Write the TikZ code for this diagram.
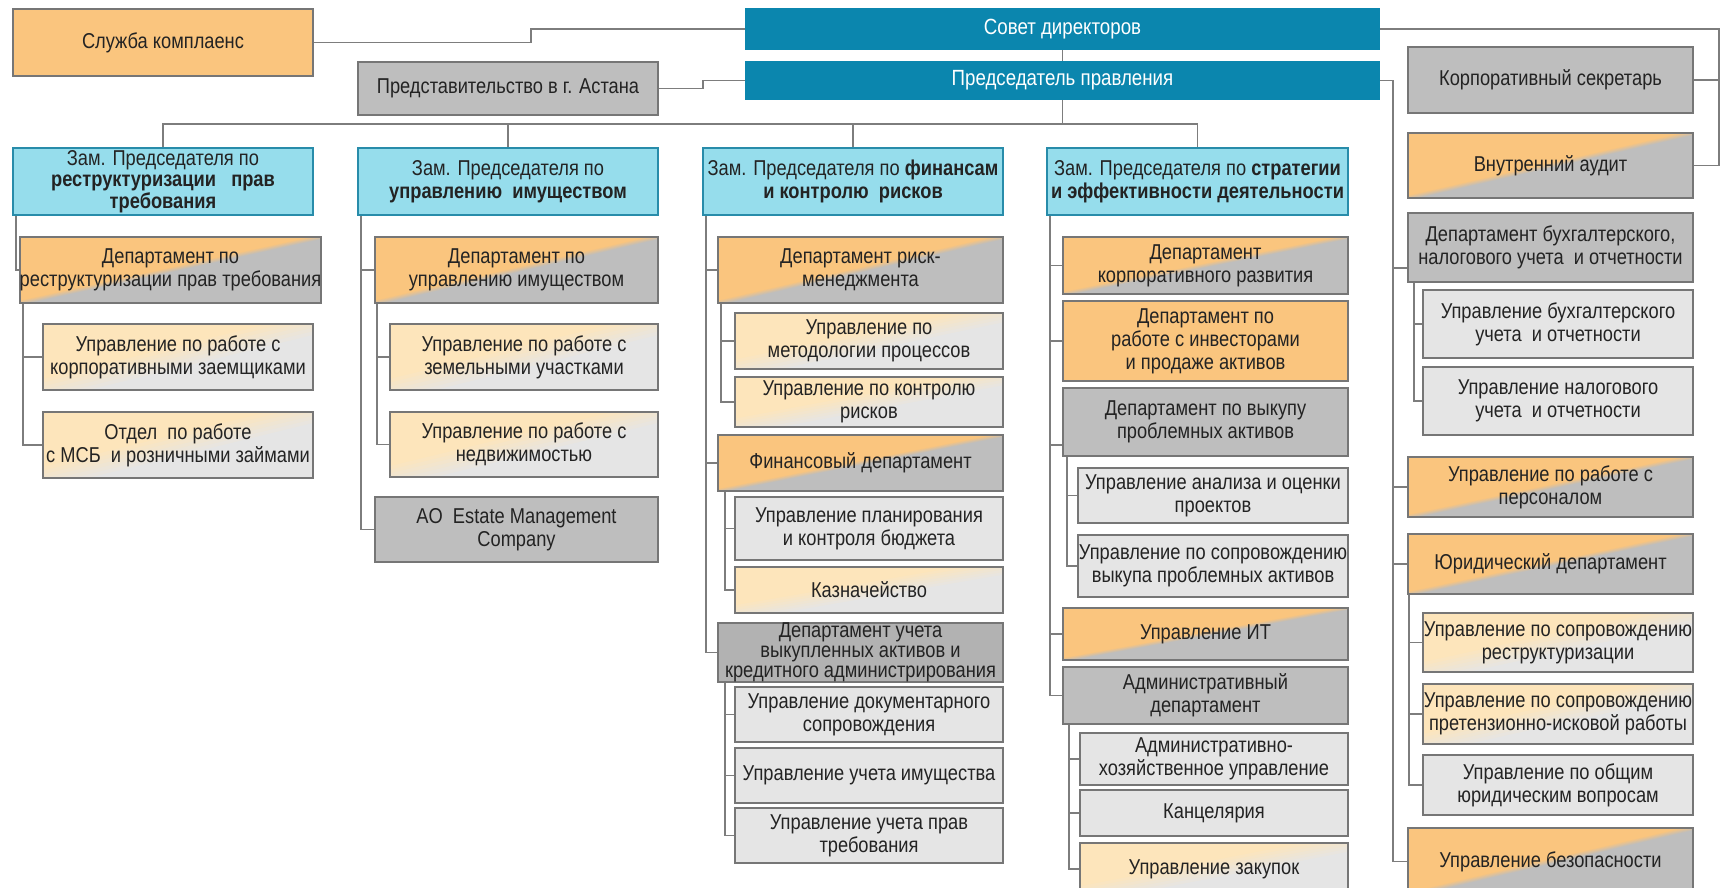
\documentclass[tikz,border=0pt]{standalone}
\usepackage{fontspec}
\setmainfont{Liberation Sans}[FakeStretch=0.85]
\usetikzlibrary{calc}
\definecolor{cTeal}{RGB}{11,134,174}
\definecolor{cTealBd}{RGB}{40,140,170}
\definecolor{cCyan}{RGB}{150,221,236}
\definecolor{cOr}{RGB}{250,197,126}
\definecolor{cGr}{RGB}{190,190,190}
\definecolor{cDGr}{RGB}{178,178,178}
\definecolor{cLGr}{RGB}{229,229,229}
\definecolor{cPOr}{RGB}{253,229,187}
\definecolor{cBd}{RGB}{118,118,118}
\definecolor{cLn}{RGB}{125,125,125}
\definecolor{cTxt}{RGB}{35,35,35}
\newcommand\diagfill[3]{%
  \foreach \i in {1,...,7}{%
    \pgfmathtruncatemacro\pp{\i*100/7}%
    \pgfmathsetmacro\off{-#3+2*#3*(\i-1)/6}%
    \fill[#2!\pp!#1] ($(path picture bounding box.south west)+(\off,0)$) --
      ($(path picture bounding box.north east)+(\off,0)$) -- ++(2000,0) --
      ($(path picture bounding box.south west)+(\off+2000,0)$) -- cycle;
  }}
\tikzset{
  base/.style={draw=cBd, line width=1.6pt, align=center, inner sep=0pt, text=cTxt, font=\fontsize{21.5}{23}\selectfont},
  tealbox/.style={base, fill=cTeal, draw=cTeal, text=white, font=\fontsize{22}{24}\selectfont},
  zam/.style={base, fill=cCyan, draw=cTealBd},
  orbox/.style={base, fill=cOr},
  grbox/.style={base, fill=cGr},
  dgrbox/.style={base, fill=cDGr},
  lgrbox/.style={base, fill=cLGr},
  gradbox/.style={base, fill=cOr, path picture={\diagfill{cOr}{cGr}{10}}},
  palebox/.style={base, fill=cPOr, path picture={\diagfill{cPOr}{cLGr}{45}}},
  conn/.style={draw=cLn, line width=1.6pt},
}
\newcommand\orgbox[7]{%
  \node[#2, minimum width={(#5-#3)*1pt}, minimum height={(#6-#4)*1pt}] (#1) at ({(#3+#5)/2},{(#4+#6)/2}) {#7};}
\begin{document}
\begin{tikzpicture}[x=1pt,y=-1pt]
\useasboundingbox (0,0) rectangle (1720,887);
\fill[white] (0,0) rectangle (1720,887);
% top
\orgbox{slu}{orbox}{13}{9}{313}{76}{Служба комплаенс}
\orgbox{pred}{grbox}{358}{62}{658}{115}{Представительство в г. Астана}
\orgbox{sovet}{tealbox}{746}{9}{1379}{49}{Совет директоров}
\orgbox{chair}{tealbox}{746}{62}{1379}{99}{Председатель правления}
% column 1
\orgbox{zam1}{zam,font=\fontsize{21.5}{21.5}\selectfont}{13}{148}{313}{215}{Зам. Председателя по\\\textbf{реструктуризации\ \ \ прав}\\\textbf{требования}}
\orgbox{dep1}{gradbox}{28}{237}{313}{303}{Департамент по\\реструктуризации прав требования}
\orgbox{u11}{palebox}{43}{324}{313}{390}{Управление по работе с\\корпоративными заемщиками}
\orgbox{u12}{palebox}{43}{412}{313}{478}{Отдел\ \ по работе\\с МСБ\ \ и розничными займами}
% column 2
\orgbox{zam2}{zam}{358}{148}{658}{215}{Зам. Председателя по\\\textbf{управлению\ \ имуществом}}
\orgbox{dep2}{gradbox}{375}{237}{658}{303}{Департамент по\\управлению имуществом}
\orgbox{u21}{palebox}{390}{324}{658}{390}{Управление по работе с\\земельными участками}
\orgbox{u22}{palebox}{390}{412}{658}{477}{Управление по работе с\\недвижимостью}
\orgbox{ao}{grbox}{375}{497}{658}{562}{AO\ \ Estate Management\\Company}
% column 3
\orgbox{zam3}{zam}{703}{148}{1003}{215}{Зам. Председателя по \textbf{финансам}\\\textbf{и контролю\ \ рисков}}
\orgbox{drisk}{gradbox}{718}{237}{1003}{303}{Департамент риск-\\менеджмента}
\orgbox{u31}{palebox}{735}{313}{1003}{369}{Управление по\\методологии процессов}
\orgbox{u32}{palebox}{735}{377}{1003}{427}{Управление по контролю\\рисков}
\orgbox{fin}{gradbox}{718}{435}{1003}{491}{Финансовый департамент}
\orgbox{u33}{lgrbox}{735}{497}{1003}{560}{Управление планирования\\и контроля бюджета}
\orgbox{u34}{palebox}{735}{567}{1003}{613}{Казначейство}
\orgbox{duch}{dgrbox,font=\fontsize{21.5}{20}\selectfont}{718}{623}{1003}{682}{Департамент учета\\выкупленных активов и\\кредитного администрирования}
\orgbox{u35}{lgrbox}{735}{687}{1003}{742}{Управление документарного\\сопровождения}
\orgbox{u36}{lgrbox}{735}{748}{1003}{803}{Управление учета имущества}
\orgbox{u37}{lgrbox}{735}{808}{1003}{863}{Управление учета прав\\требования}
% column 4
\orgbox{zam4}{zam}{1047}{148}{1348}{215}{Зам. Председателя по \textbf{стратегии}\\\textbf{и эффективности деятельности}}
\orgbox{dkorp}{gradbox}{1063}{237}{1348}{294}{Департамент\\корпоративного развития}
\orgbox{dinv}{orbox}{1063}{301}{1348}{381}{Департамент по\\работе с инвесторами\\и продаже активов}
\orgbox{dvyk}{grbox}{1063}{388}{1348}{456}{Департамент по выкупу\\проблемных активов}
\orgbox{u41}{lgrbox}{1078}{468}{1348}{523}{Управление анализа и оценки\\проектов}
\orgbox{u42}{lgrbox}{1078}{535}{1348}{597}{Управление по сопровождению\\выкупа проблемных активов}
\orgbox{uit}{gradbox}{1063}{608}{1348}{660}{Управление ИТ}
\orgbox{adm}{grbox}{1063}{667}{1348}{724}{Административный\\департамент}
\orgbox{u43}{lgrbox}{1080}{733}{1348}{785}{Административно-\\хозяйственное управление}
\orgbox{u44}{lgrbox}{1080}{790}{1348}{836}{Канцелярия}
\orgbox{u45}{palebox}{1080}{843}{1348}{895}{Управление закупок}
% column 5
\orgbox{korp}{grbox}{1408}{47}{1693}{113}{Корпоративный секретарь}
\orgbox{aud}{gradbox}{1408}{133}{1693}{198}{Внутренний аудит}
\orgbox{buh}{grbox}{1408}{213}{1693}{282}{Департамент бухгалтерского,\\налогового учета\ \ и отчетности}
\orgbox{u51}{lgrbox}{1423}{290}{1693}{358}{Управление бухгалтерского\\учета\ \ и отчетности}
\orgbox{u52}{lgrbox}{1423}{367}{1693}{435}{Управление налогового\\учета\ \ и отчетности}
\orgbox{pers}{gradbox}{1408}{457}{1693}{517}{Управление по работе с\\персоналом}
\orgbox{yur}{gradbox}{1408}{534}{1693}{594}{Юридический департамент}
\orgbox{u53}{palebox}{1423}{613}{1693}{672}{Управление по сопровождению\\реструктуризации}
\orgbox{u54}{palebox}{1423}{684}{1693}{744}{Управление по сопровождению\\претензионно-исковой работы}
\orgbox{u55}{lgrbox}{1423}{755}{1693}{815}{Управление по общим\\юридическим вопросам}
\orgbox{bez}{gradbox}{1408}{828}{1693}{895}{Управление безопасности}
% helper coordinates
\coordinate (kA) at (531,0);
\coordinate (kB) at (703,0);
\coordinate (bus) at (0,124);
\coordinate (edge) at (1719,0);
\coordinate (rv) at (1393,0);
% top connectors
\draw[conn] (slu.east) -- (slu.east -| kA) |- (sovet.west);
\draw[conn] (pred.east) -- (pred.east -| kB) |- (chair.west);
\draw[conn] (sovet.south) -- (chair.north);
\draw[conn] (chair.south) -- (chair.south |- bus);
\draw[conn] (zam1.north) -- (zam1.north |- bus) -- (zam4.north |- bus) -- (zam4.north);
\draw[conn] (zam2.north) -- (zam2.north |- bus);
\draw[conn] (zam3.north) -- (zam3.north |- bus);
\draw[conn] (sovet.east) -- (sovet.east -| edge) |- (aud.east);
\draw[conn] (korp.east) -- (korp.east -| edge);
% right column
\draw[conn] (chair.east) -- (chair.east -| rv) |- (bez.west);
\draw[conn] (chair.east -| rv) |- ($(buh.south west)+(0,-15)$);
\draw[conn] (chair.east -| rv) |- (pers.west);
\draw[conn] (chair.east -| rv) |- (yur.west);
\draw[conn] ($(buh.south west)+(7,0)$) |- (u51.west);
\draw[conn] ($(buh.south west)+(7,0)$) |- (u52.west);
\draw[conn] ($(yur.south west)+(2,0)$) |- (u53.west);
\draw[conn] ($(yur.south west)+(2,0)$) |- (u54.west);
\draw[conn] ($(yur.south west)+(2,0)$) |- (u55.west);
% column 1
\draw[conn] ($(zam1.south west)+(4,0)$) |- (dep1.west);
\draw[conn] ($(dep1.south west)+(4,0)$) |- (u11.west);
\draw[conn] ($(dep1.south west)+(4,0)$) |- (u12.west);
% column 2
\draw[conn] ($(zam2.south west)+(4,0)$) |- (dep2.west);
\draw[conn] ($(zam2.south west)+(4,0)$) |- (ao.west);
\draw[conn] ($(dep2.south west)+(3,0)$) |- (u21.west);
\draw[conn] ($(dep2.south west)+(3,0)$) |- (u22.west);
% column 3
\draw[conn] ($(zam3.south west)+(4,0)$) |- (drisk.west);
\draw[conn] ($(zam3.south west)+(4,0)$) |- (fin.west);
\draw[conn] ($(zam3.south west)+(4,0)$) |- (duch.west);
\draw[conn] ($(drisk.south west)+(4,0)$) |- (u31.west);
\draw[conn] ($(drisk.south west)+(4,0)$) |- (u32.west);
\draw[conn] ($(fin.south west)+(8,0)$) |- (u33.west);
\draw[conn] ($(fin.south west)+(8,0)$) |- (u34.west);
\draw[conn] ($(duch.south west)+(8,0)$) |- (u35.west);
\draw[conn] ($(duch.south west)+(8,0)$) |- (u36.west);
\draw[conn] ($(duch.south west)+(8,0)$) |- (u37.west);
% column 4
\draw[conn] ($(zam4.south west)+(4,0)$) |- (dkorp.west);
\draw[conn] ($(zam4.south west)+(4,0)$) |- (dinv.west);
\draw[conn] ($(zam4.south west)+(4,0)$) |- ($(dvyk.south west)+(0,-12)$);
\draw[conn] ($(zam4.south west)+(4,0)$) |- (uit.west);
\draw[conn] ($(zam4.south west)+(4,0)$) |- (adm.west);
\draw[conn] ($(dvyk.south west)+(5,0)$) |- (u41.west);
\draw[conn] ($(dvyk.south west)+(5,0)$) |- (u42.west);
\draw[conn] ($(adm.south west)+(7,0)$) |- (u43.west);
\draw[conn] ($(adm.south west)+(7,0)$) |- (u44.west);
\draw[conn] ($(adm.south west)+(7,0)$) |- (u45.west);
\end{tikzpicture}
\end{document}
